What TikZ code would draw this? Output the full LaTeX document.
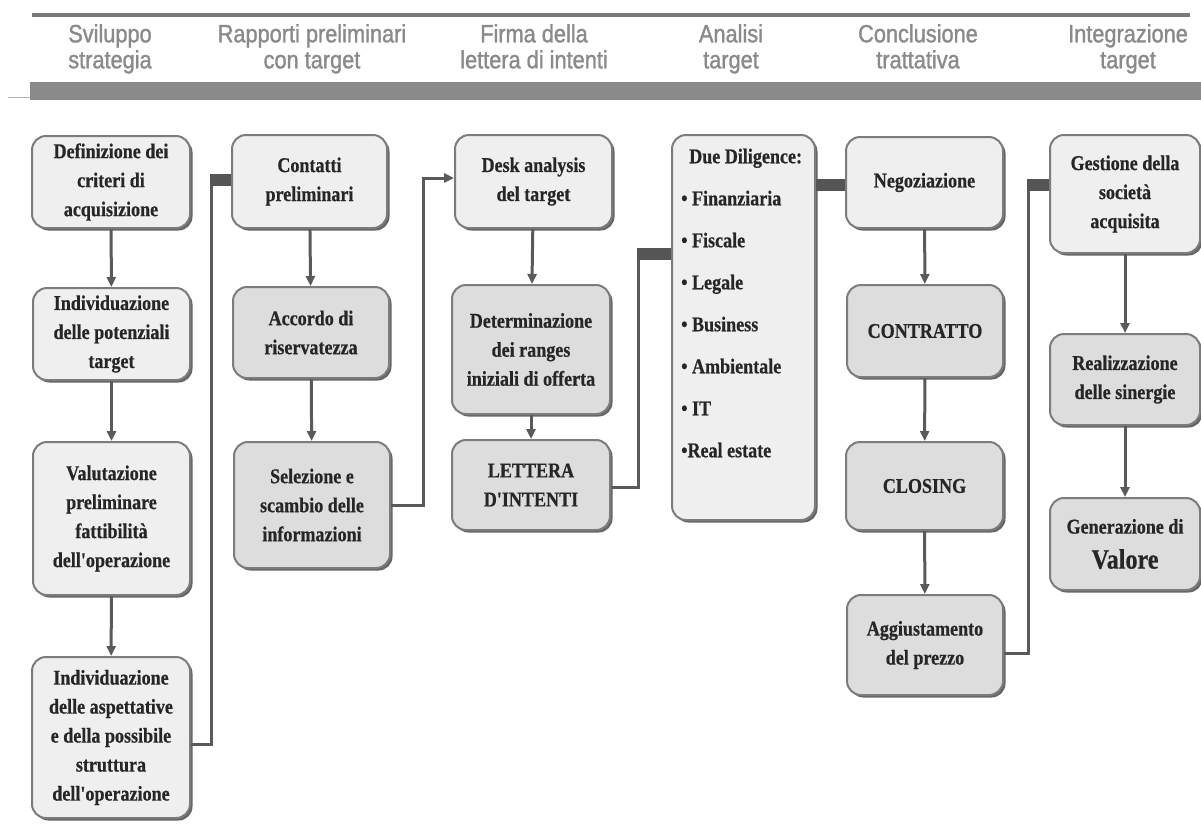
\documentclass[tikz,border=0pt]{standalone}
\usepackage{fontspec}
\setmainfont{Liberation Serif}
\newfontfamily\bxfont[FakeStretch=0.86,FakeBold=0.6]{Liberation Serif}
\newfontfamily\hdfont[FakeStretch=0.87,FakeBold=1.2]{Liberation Sans}
\usetikzlibrary{arrows.meta,shadows}
\definecolor{fillA}{HTML}{EFEFEF}
\definecolor{fillB}{HTML}{DDDDDD}
\definecolor{bord}{HTML}{7C7C7C}
\definecolor{shad}{HTML}{666666}
\definecolor{conn}{HTML}{5A5A5A}
\definecolor{barc}{HTML}{555555}
\definecolor{hdtext}{HTML}{8A8A8A}
\definecolor{hdbar}{HTML}{8A8A8A}
\definecolor{hdline}{HTML}{7A7A7A}
\newcommand\mybox[7]{\node[#6, minimum width={#4-#2}, minimum height={#5-#3}] (#1) at ({(#2+#4)/2},{(#3+#5)/2}) {#7};}
\tikzset{
  basebox/.style={rounded corners=14pt, draw=bord, line width=2pt, inner sep=2pt, align=center,
    font={\bxfont\bfseries\fontsize{21}{29}\selectfont}, text=black!85,
    general shadow={fill=shad, shadow xshift=2.5pt, shadow yshift=-2.5pt}},
  lbox/.style={basebox, fill=fillA},
  dbox/.style={basebox, fill=fillB},
  hd/.style={font={\hdfont\fontsize{25}{26}\selectfont}, text=hdtext, align=center, anchor=north, inner sep=0pt},
  arr/.style={draw=conn, line width=3pt, -{Triangle[length=10pt,width=9pt]}},
  ln/.style={draw=conn, line width=3pt},
  bar/.style={draw=barc, line width=12pt}
}
\begin{document}
\begin{tikzpicture}[x=1pt,y=-1pt]
\useasboundingbox[fill=white] (0,0) rectangle (1201,823);
% header
\draw[hdline, line width=3.5pt] (32,15) -- (1190,15);
\fill[hdbar] (30,82) rectangle (1201,100);
\draw[black!30, line width=1pt] (8,97) -- (30,97);
\node[hd] (h1) at (110,24) {\vphantom{l}Sviluppo\\strategia};
\node[hd] (h2) at (312,24) {\vphantom{l}Rapporti preliminari\\con target};
\node[hd] (h3) at (534,24) {\vphantom{l}Firma della\\lettera di intenti};
\node[hd] (h4) at (731,24) {\vphantom{l}Analisi\\target};
\node[hd] (h5) at (918,24) {\vphantom{l}Conclusione\\trattativa};
\node[hd] (h6) at (1128,24) {\vphantom{l}Integrazione\\target};
% column 1
\mybox{def}{32}{136}{190}{228}{lbox}{Definizione dei\\criteri di\\acquisizione}
\mybox{pot}{33}{288}{190}{380}{lbox}{Individuazione\\delle potenziali\\target}
\mybox{val}{33}{442}{190}{595}{lbox}{Valutazione\\preliminare\\fattibilità\\dell'operazione}
\mybox{asp}{32}{657}{190}{818}{lbox}{Individuazione\\delle aspettative\\e della possibile\\struttura\\dell'operazione}
% column 2
\mybox{con}{232}{135}{387}{228}{lbox}{Contatti\\preliminari}
\mybox{acc}{233}{287}{389}{378}{dbox}{Accordo di\\riservatezza}
\mybox{sel}{234}{442}{390}{568}{dbox}{Selezione e\\scambio delle\\informazioni}
% column 3
\mybox{desk}{455}{135}{612}{228}{lbox}{Desk analysis\\del target}
\mybox{det}{452}{285}{610}{414}{dbox}{Determinazione\\dei ranges\\iniziali di offerta}
\mybox{let}{452}{440}{610}{530}{dbox}{LETTERA\\D'INTENTI}
% column 4
\mybox{dd}{672}{135}{815}{520}{lbox}{}
\node[font={\bxfont\bfseries\fontsize{21}{42}\selectfont}, text=black!85, align=left, anchor=north west, inner sep=0pt] (ddtext) at (681,148.5)
  {\hspace*{8pt}Due Diligence:\\• Finanziaria\\• Fiscale\\• Legale\\• Business\\• Ambientale\\• IT\\•Real estate};
% column 5
\mybox{neg}{846}{137}{1003}{228}{lbox}{Negoziazione}
\mybox{ctr}{847}{285}{1003}{377}{dbox}{CONTRATTO}
\mybox{clo}{846}{442}{1003}{530}{dbox}{CLOSING}
\mybox{agg}{847}{595}{1003}{695}{dbox}{Aggiustamento\\del prezzo}
% column 6
\mybox{ges}{1050}{135}{1200}{253}{lbox}{Gestione della\\società\\acquisita}
\mybox{rea}{1050}{334}{1200}{425}{dbox}{Realizzazione\\delle sinergie}
\mybox{gen}{1050}{498}{1200}{590}{dbox}{Generazione di\\[6pt]{\fontsize{28}{30}\selectfont Valore}}
% vertical arrows
\draw[arr] (def) -- (pot);
\draw[arr] (pot) -- (val);
\draw[arr] (val) -- (asp);
\draw[arr] (con) -- (acc);
\draw[arr] (acc) -- (sel);
\draw[arr] (desk) -- (det);
\draw[arr] (det) -- (let);
\draw[arr] (neg) -- (ctr);
\draw[arr] (ctr) -- (clo);
\draw[arr] (clo) -- (agg);
\draw[arr] (ges) -- (rea);
\draw[arr] (rea) -- (gen);
% connectors between columns
\coordinate (j1) at (211,180);
\draw[ln] ([yshift=-7pt]asp.east) -| (j1);
\draw[bar] ([xshift=-1.5pt]j1) -- (j1 -| con.west);
\coordinate (j2) at (423,178);
\draw[arr] (sel.east) -| (j2) -- (j2 -| desk.west);
\coordinate (j3) at (638,254);
\draw[ln] ([yshift=-2pt]let.east) -| (j3);
\draw[bar] ([xshift=-1.5pt]j3) -- (j3 -| dd.west);
\draw[bar] ([yshift=-2pt]neg.west -| dd.east) -- ([yshift=-2pt]neg.west);
\coordinate (j4) at (1028,185);
\draw[ln] ([yshift=-8pt]agg.east) -| (j4);
\draw[bar] ([xshift=-1.5pt]j4) -- (j4 -| ges.west);
\end{tikzpicture}
\end{document}
